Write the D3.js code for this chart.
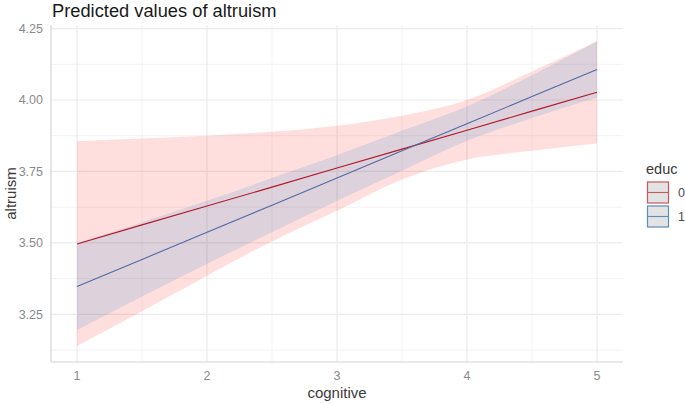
<!DOCTYPE html>
<html>
<head>
<meta charset="utf-8">
<script src="https://cdn.jsdelivr.net/npm/d3@7"></script>
<style>
  body { margin: 0; background: #fff; }
  svg { display: block; font-family: "Liberation Sans", Arial, sans-serif; }
</style>
</head>
<body>
<div id="chart"></div>
<script>
// values
var cognitive = [1, 1.5, 2, 2.5, 3, 3.5, 4, 4.5, 5];
var educ0 = [3.496, 3.563, 3.629, 3.695, 3.762, 3.828, 3.894, 3.961, 4.027];
var educ0Low = [3.139, 3.261, 3.385, 3.505, 3.612, 3.722, 3.792, 3.822, 3.848];
var educ0High = [3.856, 3.865, 3.875, 3.889, 3.910, 3.945, 4.000, 4.100, 4.206];
var educ1 = [3.347, 3.442, 3.537, 3.632, 3.727, 3.822, 3.917, 4.012, 4.107];
var educ1Low = [3.195, 3.312, 3.427, 3.537, 3.647, 3.752, 3.857, 3.937, 4.009];
var educ1High = [3.499, 3.572, 3.647, 3.727, 3.807, 3.892, 3.977, 4.087, 4.205];
var xTicks = [1, 2, 3, 4, 5];
var yTicks = [3.25, 3.50, 3.75, 4.00, 4.25];
var groups = ["0", "1"];

var width = 685, height = 404;
var pLeft = 51, pRight = 623, pTop = 25, pBottom = 362;

var svg = d3.select("#chart").append("svg")
    .attr("width", width)
    .attr("height", height);

var x = d3.scaleLinear().domain([0.8, 5.2]).range([pLeft, pRight]);
var y = d3.scaleLinear().domain([3.083, 4.2625]).range([pBottom, pTop]);

// grid, minor first then major
var xMinor = [1.5, 2.5, 3.5, 4.5];
var yMinor = [3.125, 3.375, 3.625, 3.875, 4.125];
var grid = svg.append("g");
grid.selectAll(".vminor").data(xMinor).enter().append("line")
    .attr("x1", d => x(d)).attr("x2", d => x(d))
    .attr("y1", pTop).attr("y2", pBottom)
    .attr("stroke", "#f3f3f3").attr("stroke-width", 1);
grid.selectAll(".hminor").data(yMinor).enter().append("line")
    .attr("x1", pLeft).attr("x2", pRight)
    .attr("y1", d => y(d)).attr("y2", d => y(d))
    .attr("stroke", "#f3f3f3").attr("stroke-width", 1);
grid.selectAll(".vmajor").data(xTicks).enter().append("line")
    .attr("x1", d => x(d)).attr("x2", d => x(d))
    .attr("y1", pTop).attr("y2", pBottom)
    .attr("stroke", "#ebebeb").attr("stroke-width", 1.2);
grid.selectAll(".hmajor").data(yTicks).enter().append("line")
    .attr("x1", pLeft).attr("x2", pRight)
    .attr("y1", d => y(d)).attr("y2", d => y(d))
    .attr("stroke", "#ebebeb").attr("stroke-width", 1.2);

// ribbons
function rows(mid, lo, hi) {
    return cognitive.map((c, i) => ({ c: c, m: mid[i], lo: lo[i], hi: hi[i] }));
}
var series = [
    { data: rows(educ0, educ0Low, educ0High), fill: "#ff2020", line: "#b2182b", keyStroke: "#c8585a" },
    { data: rows(educ1, educ1Low, educ1High), fill: "#1c86c9", line: "#4f6aa6", keyStroke: "#5b8dbd" }
];

var area = d3.area()
    .x(d => x(d.c))
    .y0(d => y(d.lo))
    .y1(d => y(d.hi))
    .curve(d3.curveMonotoneX);
var line = d3.line()
    .x(d => x(d.c))
    .y(d => y(d.m));

series.forEach(s => {
    svg.append("path")
        .datum(s.data)
        .attr("d", area)
        .attr("fill", s.fill)
        .attr("fill-opacity", 0.15);
});
series.forEach(s => {
    svg.append("path")
        .datum(s.data)
        .attr("d", line)
        .attr("fill", "none")
        .attr("stroke", s.line)
        .attr("stroke-width", 1.1);
});

// axis lines
svg.append("line")
    .attr("x1", pLeft).attr("x2", pLeft).attr("y1", pTop).attr("y2", pBottom)
    .attr("stroke", "#d4d4d4").attr("stroke-width", 1.2);
svg.append("line")
    .attr("x1", pLeft).attr("x2", pRight).attr("y1", pBottom).attr("y2", pBottom)
    .attr("stroke", "#d4d4d4").attr("stroke-width", 1.2);

// tick labels
svg.selectAll(".ylab").data(yTicks).enter().append("text")
    .attr("x", 43)
    .attr("y", d => y(d))
    .attr("dy", "0.35em")
    .attr("text-anchor", "end")
    .attr("font-size", 12.5)
    .attr("fill", "#8a8a8a")
    .text(d => d3.format(".2f")(d));
svg.selectAll(".xlab").data(xTicks).enter().append("text")
    .attr("x", d => x(d))
    .attr("y", 380)
    .attr("text-anchor", "middle")
    .attr("font-size", 12.5)
    .attr("fill", "#8a8a8a")
    .text(d => d);

// titles
svg.append("text")
    .attr("x", 52).attr("y", 17)
    .attr("font-size", 18.3)
    .attr("fill", "#1a1a1a")
    .text("Predicted values of altruism");
svg.append("text")
    .attr("x", (pLeft + pRight) / 2).attr("y", 398)
    .attr("text-anchor", "middle")
    .attr("font-size", 15)
    .attr("fill", "#3a3a3a")
    .text("cognitive");
svg.append("text")
    .attr("transform", `translate(16,${(pTop + pBottom) / 2}) rotate(-90)`)
    .attr("text-anchor", "middle")
    .attr("font-size", 15)
    .attr("fill", "#3a3a3a")
    .text("altruism");

// legend
var legend = svg.append("g").attr("transform", "translate(646,0)");
legend.append("text")
    .attr("x", 0).attr("y", 174)
    .attr("font-size", 14.5)
    .attr("fill", "#3a3a3a")
    .text("educ");
series.forEach((s, i) => {
    var keyTop = 182 + i * 24;
    legend.append("rect")
        .attr("x", 1.5).attr("y", keyTop)
        .attr("width", 21).attr("height", 21)
        .attr("fill", "#e3e3e3")
        .attr("stroke", s.keyStroke)
        .attr("stroke-width", 1.2);
    legend.append("line")
        .attr("x1", 1.5).attr("x2", 22.5)
        .attr("y1", keyTop + 10.5).attr("y2", keyTop + 10.5)
        .attr("stroke", s.keyStroke)
        .attr("stroke-width", 1.1);
    legend.append("text")
        .attr("x", 32).attr("y", keyTop + 10.5)
        .attr("dy", "0.35em")
        .attr("font-size", 12.5)
        .attr("fill", "#4a4a4a")
        .text(groups[i]);
});
</script>
</body>
</html>
